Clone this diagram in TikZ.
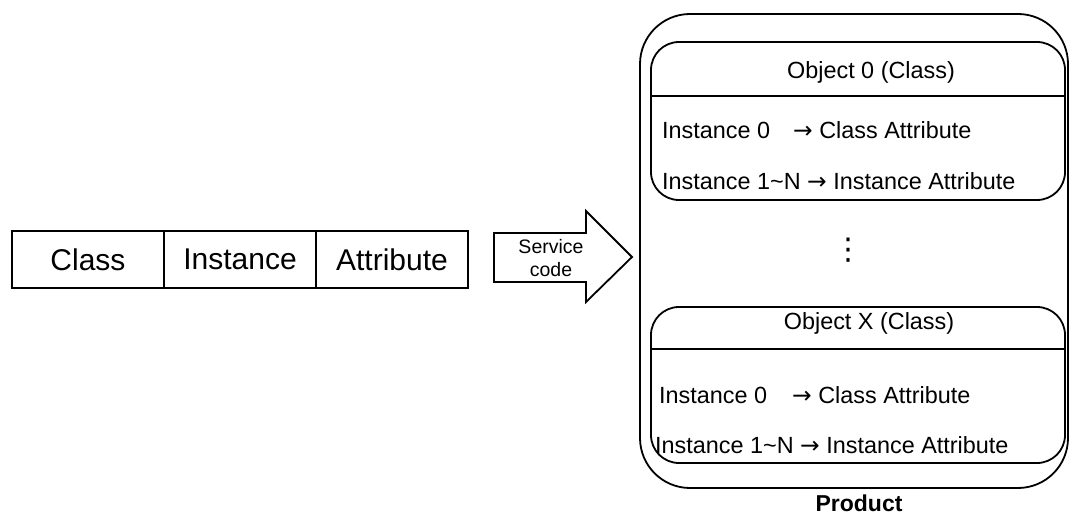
\documentclass[tikz,border=0pt]{standalone}
\usepackage{fontspec}
\setmainfont{Liberation Sans}
\newfontfamily\dejavu{DejaVu Sans}
\newcommand{\rarr}{{\dejavu →}}
\begin{document}
\begin{tikzpicture}[x=1pt,y=-1pt,
  cell/.style={draw, line width=1.8pt, minimum width=152pt, minimum height=57pt, inner sep=0pt,
    font=\fontsize{30}{36}\selectfont},
  objbox/.style={draw, line width=1.8pt, rounded corners=28pt, minimum width=414pt, inner sep=0pt},
  txt/.style={inner sep=0pt, font=\fontsize{23.4}{28}\selectfont},
  rowtxt/.style={txt, anchor=west}
]
\useasboundingbox (0,0) rectangle (1070,516);

% left boxes
\node[cell] (class) at (88,259.5) {Class};
\node[cell] (inst) at (240,259.5) {Instance};
\node[cell] (attr) at (392,259.5) {Attribute};

% block arrow
\draw[line width=1.8pt, line join=miter] (494,233) -- (586,233) -- (586,211) -- (632,257) -- (586,302) -- (586,282) -- (494,282) -- cycle;
\node[inner sep=0pt, align=center, font=\fontsize{19.5}{23}\selectfont] (svc) at (551,258) {Service\\code};

% outer product box
\node[draw, line width=1.8pt, rounded corners=50pt, minimum width=428pt, minimum height=474pt, inner sep=0pt] (prod) at (854,251) {};
\node[inner sep=0pt, font=\fontsize{23}{28}\bfseries\selectfont] (prodlbl) at (859,503) {Product};

% object 0
\node[objbox, minimum height=158pt] (obj0) at (858,121) {};
\draw[line width=1.2pt] (obj0.west |- 0,96) -- (obj0.east |- 0,96);
\node[txt] (o0t) at (871,72) {Object 0 (Class)};
\node[rowtxt] (o0r1a) at (662,130) {Instance 0};
\node[rowtxt] (o0r1b) at (793,130) {\rarr\ Class Attribute};
\node[rowtxt] (o0r2) at (662,181) {Instance 1\textasciitilde N \rarr\ Instance Attribute};

% dots
\node[inner sep=0pt, font=\dejavu\fontsize{30}{36}\selectfont] (dots) at (848,250) {⋮};

% object X
\node[objbox, minimum height=156pt] (objx) at (858,385) {};
\draw[line width=1.2pt] (objx.west |- 0,349) -- (objx.east |- 0,349);
\node[txt] (oxt) at (869,323) {Object X (Class)};
\node[rowtxt] (oxr1a) at (659,395) {Instance 0};
\node[rowtxt] (oxr1b) at (792,395) {\rarr\ Class Attribute};
\node[rowtxt] (oxr2) at (655,445) {Instance 1\textasciitilde N \rarr\ Instance Attribute};
\end{tikzpicture}
\end{document}
